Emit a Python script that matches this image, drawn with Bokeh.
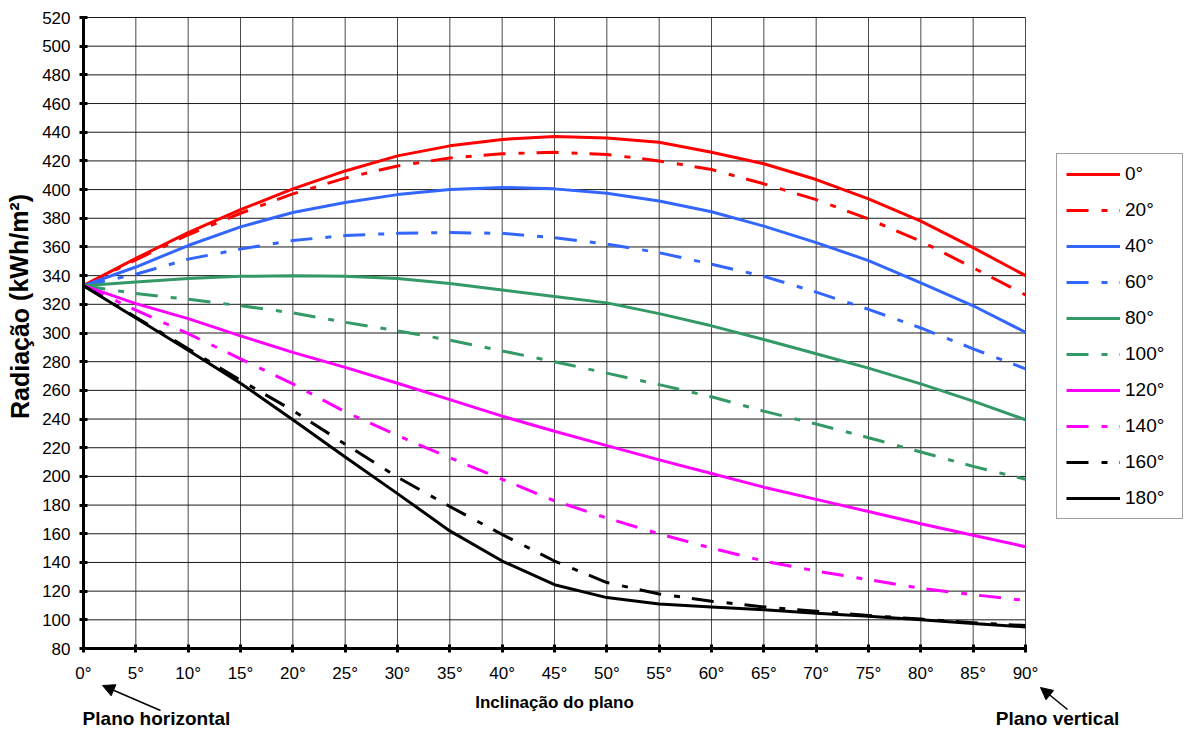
from bokeh.plotting import figure
from bokeh.models import (Range1d, FixedTicker, Legend, LegendItem, Label, Arrow, NormalHead)
from bokeh.embed import file_html
from bokeh.resources import INLINE

# ---------------- data ----------------
inclination = [0, 5, 10, 15, 20, 25, 30, 35, 40, 45, 50, 55, 60, 65, 70, 75, 80, 85, 90]

az_0 = [333, 352, 370, 386, 400.5, 413, 423.5, 430.5, 435, 437, 436, 433, 426, 418, 407, 393.5, 378, 359.5, 340]
az_20 = [333, 351, 368.5, 383.5, 397, 408, 416.5, 422, 425, 426, 424.5, 420, 414, 404, 393, 379.5, 364, 345.5, 326.5]
az_40 = [333, 346, 361, 374, 384, 391, 396.5, 400, 401.5, 400.5, 397.5, 392, 384.5, 374.5, 363, 350.5, 335, 319, 300.5]
az_60 = [333, 341, 351.5, 358.5, 364.5, 368, 369.5, 370, 369.5, 366.5, 362, 356, 348, 339.5, 328.5, 316.5, 303.5, 289, 275]
az_80 = [333, 335.5, 338, 339.5, 340, 339.5, 338, 334.5, 330, 325.5, 321, 313.5, 305, 295.5, 285.5, 275.5, 264.5, 252.5, 239.5]
az_100 = [333, 327.5, 323.5, 319, 314, 307.5, 301.5, 295, 287.5, 280, 272, 264, 255.5, 245.5, 236.5, 227, 217, 207, 198]
az_120 = [333, 320.5, 310, 298, 286.5, 276, 265, 253.5, 242, 231.5, 221.5, 211.5, 202, 192.5, 184, 175.5, 167, 159, 151]
az_140 = [333, 316, 299.5, 282, 264.5, 245, 228.5, 213, 198, 183, 171, 160, 150, 141, 134, 128, 122, 117.5, 113.5]
az_160 = [333, 311, 289, 267, 246, 222.5, 199.5, 179, 159.5, 141, 126, 118, 113, 109, 106, 103, 100.5, 98, 96]
az_180 = [333, 310.5, 288, 265, 239.5, 213.5, 188, 162, 141, 124.5, 115.5, 111, 109, 107, 104.5, 102.5, 100, 97.5, 95]

series_labels = ["0°", "20°", "40°", "60°", "80°", "100°", "120°", "140°", "160°", "180°"]
series_values = [az_0, az_20, az_40, az_60, az_80, az_100, az_120, az_140, az_160, az_180]
series_colors = ["#FF0000", "#FF0000", "#3366FF", "#3366FF", "#339966", "#339966",
                 "#FF00FF", "#FF00FF", "#000000", "#000000"]
DASHDOT = "22 13 6 12"
series_dash = ["solid", DASHDOT, "solid", DASHDOT, "solid", DASHDOT,
               "solid", DASHDOT, DASHDOT, "solid"]

x_ticks = list(range(0, 95, 5))
y_ticks = list(range(80, 540, 20))
X_MIN, X_MAX = 0, 90
Y_MIN, Y_MAX = 80, 520

FONT = "Liberation Sans"

# ---------------- geometry (pixels) ----------------
W, H = 1186, 728
PX_LEFT, PX_RIGHT, PX_TOP, PX_BOTTOM = 83, 1025, 17, 648
sx = (PX_RIGHT - PX_LEFT) / (X_MAX - X_MIN)
sy = (PX_BOTTOM - PX_TOP) / (Y_MAX - Y_MIN)
x_range = Range1d(X_MIN - PX_LEFT / sx, X_MAX + (W - PX_RIGHT) / sx)
y_range = Range1d(Y_MIN - (H - PX_BOTTOM) / sy, Y_MAX + PX_TOP / sy)


def dx(px):
    return X_MIN + (px - PX_LEFT) / sx


def dy(py):
    return Y_MAX - (py - PX_TOP) / sy


# ---------------- figure ----------------
p = figure(width=W, height=H, output_backend="svg", toolbar_location=None,
           x_range=x_range, y_range=y_range,
           min_border_left=0, min_border_right=0, min_border_top=0, min_border_bottom=0)
p.background_fill_color = "white"
p.border_fill_color = "white"
p.outline_line_color = None
p.grid.visible = False

# grid lines (drawn through the data scales)
p.segment(x0=x_ticks, x1=x_ticks, y0=[Y_MIN] * len(x_ticks), y1=[Y_MAX] * len(x_ticks),
          line_color="#4a4a4a", line_width=1)
p.segment(x0=[X_MIN] * len(y_ticks), x1=[X_MAX] * len(y_ticks), y0=y_ticks, y1=y_ticks,
          line_color="#1a1a1a", line_width=1)

# axes at fixed positions
p.xaxis.fixed_location = Y_MIN
p.xaxis.bounds = (X_MIN, X_MAX)
p.yaxis.fixed_location = X_MIN
p.yaxis.bounds = (Y_MIN, Y_MAX)
for ax in (p.xaxis[0], p.yaxis[0]):
    ax.axis_line_width = 3
    ax.axis_line_color = "black"
    ax.major_tick_line_width = 3
    ax.major_tick_line_color = "black"
    ax.major_tick_in = 4
    ax.major_tick_out = 4
    ax.minor_tick_line_color = None
    ax.major_label_text_font = FONT
    ax.major_label_text_font_size = "17px"
    ax.major_label_text_color = "black"

p.xaxis.ticker = FixedTicker(ticks=x_ticks)
p.xaxis.major_label_overrides = {t: f"{t}°" for t in x_ticks}
p.xaxis.major_label_standoff = 11
p.yaxis.ticker = FixedTicker(ticks=y_ticks)
p.yaxis.major_label_standoff = 9

# ---------------- series ----------------
items = []
for lab, vals, col, dash in zip(series_labels, series_values, series_colors, series_dash):
    r = p.line(inclination, vals, line_color=col, line_width=3, line_dash=dash,
               line_join="round", line_cap="butt")
    items.append(LegendItem(label=lab, renderers=[r]))

legend = Legend(items=items, location=(1056, H - 519), orientation="vertical",
                label_text_font=FONT, label_text_font_size="19px", label_text_color="black",
                glyph_width=54, glyph_height=20, label_height=20, label_width=48,
                label_standoff=5, spacing=14, padding=9, margin=0,
                border_line_color="#444444", border_line_width=1,
                background_fill_color="white", background_fill_alpha=1.0)
p.add_layout(legend)

# ---------------- texts ----------------
p.add_layout(Label(x=dx(554), y=dy(702), text="Inclinação do plano", text_font=FONT,
                   text_font_style="bold", text_font_size="17px", text_align="center",
                   text_baseline="middle", text_color="black"))
p.add_layout(Label(x=dx(19), y=dy(306), text="Radiação (kWh/m²)", angle=1.5708,
                   text_font=FONT, text_font_style="bold", text_font_size="25px",
                   text_align="center", text_baseline="middle", text_color="black"))
p.add_layout(Label(x=dx(156), y=dy(718), text="Plano horizontal", text_font=FONT,
                   text_font_style="bold", text_font_size="19px", text_align="center",
                   text_baseline="middle", text_color="black"))
p.add_layout(Label(x=dx(1057), y=dy(718), text="Plano vertical", text_font=FONT,
                   text_font_style="bold", text_font_size="19px", text_align="center",
                   text_baseline="middle", text_color="black"))

p.add_layout(Arrow(x_start=dx(160), y_start=dy(710), x_end=dx(102), y_end=dy(685),
                   line_width=1.5, line_color="black",
                   end=NormalHead(size=12, fill_color="black", line_color="black")))
p.add_layout(Arrow(x_start=dx(1067), y_start=dy(709), x_end=dx(1040), y_end=dy(687),
                   line_width=1.5, line_color="black",
                   end=NormalHead(size=12, fill_color="black", line_color="black")))

open("out.html", "w").write(file_html(p, INLINE))
